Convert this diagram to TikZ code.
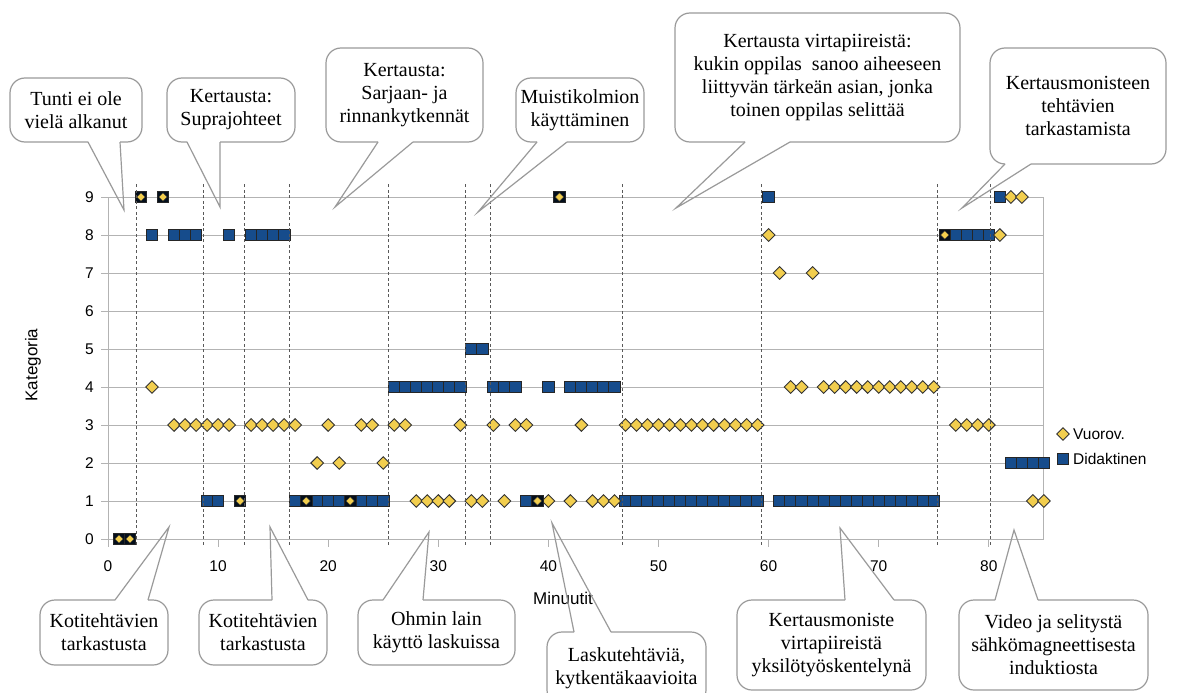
\documentclass[tikz,border=0pt]{standalone}
\usepackage{fontspec}
\setmainfont{Liberation Serif}
\setsansfont{Liberation Sans}
\usetikzlibrary{shapes.geometric,calc}

\definecolor{didblue}{HTML}{164C8C}
\definecolor{vuoyellow}{HTML}{F2CE4E}
\definecolor{gridgray}{HTML}{B3B3B3}
\definecolor{callgray}{HTML}{9A9A9A}

\tikzset{
  did/.style={rectangle, draw=black!85, fill=didblue, line width=0.8pt, minimum size=11.5pt, inner sep=0pt},
  vuo/.style={diamond, draw=black!80, fill=vuoyellow, line width=0.9pt, minimum size=13pt, inner sep=0pt},
  bothsq/.style={did, fill=black!80!didblue},
  bothdia/.style={vuo, minimum size=8.5pt, line width=0.4pt},
  gridline/.style={draw=gridgray, line width=1pt},
  phase/.style={draw=black!65, line width=0.8pt, dash pattern=on 3pt off 2.5pt},
  ticklab/.style={font=\sffamily\fontsize{15.5}{17}\selectfont, inner sep=0pt},
  note/.style={font=\fontsize{20}{23}\selectfont, align=center, inner sep=0pt, outer sep=0pt},
  bubble/.style={draw=callgray, line width=1.2pt, rounded corners=15pt},
  wedge/.style={draw=callgray, line width=1.2pt, line join=miter},
}

% speech bubble with its pointer on the lower edge
\newcommand{\calloutdown}[4]{%
  \draw[bubble] ($(#1.south west)+(#2,0)$) -- (#1.south west) -- (#1.north west)
    -- (#1.north east) -- (#1.south east) -- ($(#1.south west)+(#3,0)$);
  \draw[wedge] ($(#1.south west)+(#2,0)$) -- (#4) -- ($(#1.south west)+(#3,0)$);}
% speech bubble with its pointer on the upper edge
\newcommand{\calloutup}[4]{%
  \draw[bubble] ($(#1.north west)+(#3,0)$) -- (#1.north east) -- (#1.south east)
    -- (#1.south west) -- (#1.north west) -- ($(#1.north west)+(#2,0)$);
  \draw[wedge] ($(#1.north west)+(#2,0)$) -- (#4) -- ($(#1.north west)+(#3,0)$);}

\begin{document}
\begin{tikzpicture}[x=1pt, y=-1pt]

\fill[white] (0,0) rectangle (1180,693);
\useasboundingbox (0,0) rectangle (1180,693);

\begin{scope}[shift={(108,539)}, x=11.01pt, y=38pt]

% grid and axes
\foreach \k in {0,...,9}{
    \draw[gridline] (0,\k) ++(-7pt,0) -- (85,\k);
    \node[ticklab, anchor=east, xshift=-14pt] (yl\k) at (0,\k) {\k};
}
\draw[gridline] (0,0) -- (0,9);
\draw[gridline] (85,0) -- (85,9);
\foreach \m in {0,10,...,80}{
    \draw[gridline] (\m,0) -- ++(0,-8pt);
    \node[ticklab, yshift=-27pt] (xl\m) at (\m,0) {\m};
}

% Didaktinen
\foreach \k/\ms in {1/{9,10,17,19,20,21,23,24,25,38,47,48,49,50,51,52,53,54,55,56,57,58,59,61,62,63,64,65,66,67,68,69,70,71,72,73,74,75},
                   2/{82,83,84,85},
                   4/{26,27,28,29,30,31,32,35,36,37,40,42,43,44,45,46},
                   5/{33,34},
                   8/{4,6,7,8,11,13,14,15,16,77,78,79,80},
                   9/{60,81}}{
    \foreach \m in \ms {\node[did] (d-\m-\k) at (\m,\k) {};}
}

% Vuorov.
\foreach \k/\ms in {1/{28,29,30,31,33,34,36,40,42,44,45,46,84,85},
                   2/{19,21,25},
                   3/{6,7,8,9,10,11,13,14,15,16,17,20,23,24,26,27,32,35,37,38,43,47,48,49,50,51,52,53,54,55,56,57,58,59,77,78,79,80},
                   4/{4,62,63,65,66,67,68,69,70,71,72,73,74,75},
                   7/{61,64},
                   8/{60,81},
                   9/{82,83}}{
    \foreach \m in \ms {\node[vuo] (v-\m-\k) at (\m,\k) {};}
}

% both at once
\foreach \m/\k in {1/0, 2/0, 12/1, 18/1, 22/1, 39/1, 76/8, 3/9, 5/9, 41/9}{
    \node[bothsq] (b-\m-\k) at (\m,\k) {};
    \node[bothdia] (bd-\m-\k) at (\m,\k) {};
}

% phase borders
\foreach \t in {2.6,8.7,12.35,16.5,25.5,32.5,34.7,46.7,59.35,75.35,80.15}{
    \draw[phase] (\t,-0.15) -- (\t,9.35);
}

\end{scope}

% axis titles and legend
\node[font=\sffamily\fontsize{17}{19}\selectfont] (xtitle) at (563,598) {Minuutit};
\node[font=\sffamily\fontsize{17}{19}\selectfont, rotate=90] (ytitle) at (33,365) {Kategoria};
\node[vuo] (legv) at (1063,434) {};
\node[ticklab, anchor=west] (legvt) at (1073,434) {Vuorov.};
\node[did] (legd) at (1063,459) {};
\node[ticklab, anchor=west] (legdt) at (1073,459) {Didaktinen};

% callouts above
\node[note, minimum width=132pt, minimum height=64pt] (tunti) at (76,110) {Tunti ei ole\\vielä alkanut};
\coordinate (tuntitip) at (124,210);
\calloutdown{tunti}{78}{110}{tuntitip}

\node[note, minimum width=128pt, minimum height=64pt] (supra) at (231,110) {Kertausta:\\Suprajohteet};
\coordinate (supratip) at (220,207);
\calloutdown{supra}{20}{53}{supratip}

\node[note, minimum width=157pt, minimum height=94pt] (sarja) at (404.5,95) {Kertausta:\\Sarjaan- ja\\rinnankytkennät};
\coordinate (sarjatip) at (335,207);
\calloutdown{sarja}{52}{87}{sarjatip}

\node[note, minimum width=128pt, minimum height=64pt] (muisti) at (580,110) {Muistikolmion\\käyttäminen};
\coordinate (muistitip) at (478,212);
\calloutdown{muisti}{21}{51}{muistitip}

\node[note, minimum width=285pt, minimum height=129pt] (virta) at (817.5,77.5) {Kertausta virtapiireistä:\\kukin oppilas \ sanoo aiheeseen\\liittyvän tärkeän asian, jonka\\toinen oppilas selittää};
\coordinate (virtatip) at (676,208);
\calloutdown{virta}{70}{115}{virtatip}

\node[note, minimum width=176pt, minimum height=116pt] (kerta) at (1078,106) {Kertausmonisteen\\tehtävien\\tarkastamista};
\coordinate (kertatip) at (962,208);
\calloutdown{kerta}{15}{41}{kertatip}

% callouts below
\node[note, minimum width=128pt, minimum height=65pt] (kotia) at (104,632.5) {Kotitehtävien\\tarkastusta};
\coordinate (kotiatip) at (169,527);
\calloutup{kotia}{75}{108}{kotiatip}

\node[note, minimum width=128pt, minimum height=65pt] (kotib) at (263,632.5) {Kotitehtävien\\tarkastusta};
\coordinate (kotibtip) at (270,527);
\calloutup{kotib}{73}{109}{kotibtip}

\node[note, minimum width=157pt, minimum height=65pt] (ohm) at (436.5,632.5) {Ohmin lain\\käyttö laskuissa};
\coordinate (ohmtip) at (429,532);
\calloutup{ohm}{25}{65}{ohmtip}

\node[note, minimum width=159pt, minimum height=73pt] (lasku) at (626.5,668.5) {Laskutehtäviä,\\kytkentäkaavioita};
\coordinate (laskutip) at (552,523);
\calloutup{lasku}{27}{64}{laskutip}

\node[note, minimum width=189pt, minimum height=90pt] (moniste) at (831.5,645) {Kertausmoniste\\virtapiireistä\\yksilötyöskentelynä};
\coordinate (monistetip) at (840,528);
\calloutup{moniste}{108}{157}{monistetip}

\node[note, minimum width=189pt, minimum height=90pt] (video) at (1053.5,645) {Video ja selitystä\\sähkömagneettisesta\\induktiosta};
\coordinate (videotip) at (1014,530);
\calloutup{video}{36}{79}{videotip}

\end{tikzpicture}
\end{document}
